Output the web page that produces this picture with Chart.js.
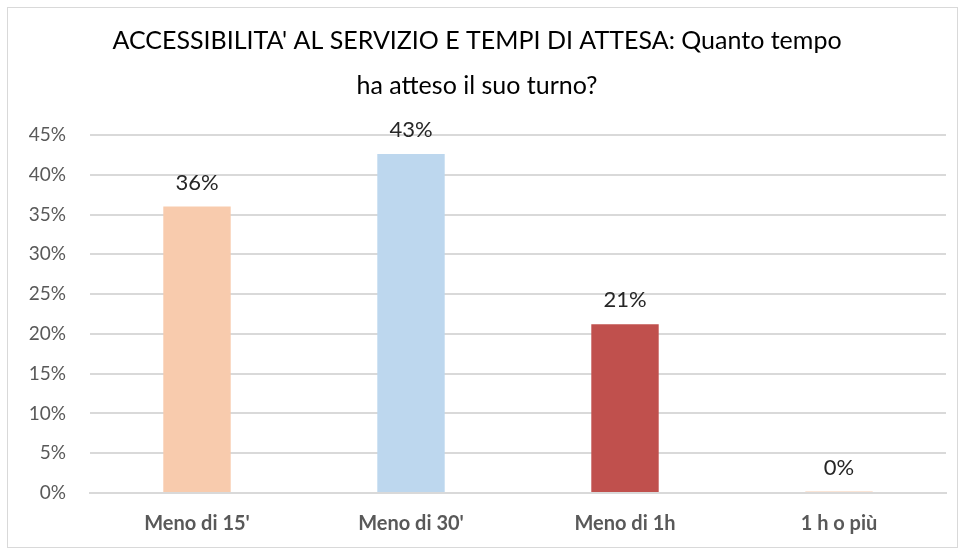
<!DOCTYPE html>
<html>
<head>
<meta charset="utf-8">
<script src="https://cdn.jsdelivr.net/npm/chart.js@4.4.0/dist/chart.umd.min.js"></script>
<style>
  html, body { margin: 0; padding: 0; background: #fff; }
  #box {
    position: absolute; left: 7px; top: 7px;
    width: 951px; height: 541px;
    box-sizing: border-box; border: 1px solid #d9d9d9;
  }
  #chart { display: block; }
</style>
</head>
<body>
<div id="box"><canvas id="chart" width="949" height="539"></canvas></div>
<script>
//---------------------- Data -----------------------//
const categories = ["Meno di 15'", "Meno di 30'", "Meno di 1h", "1 h o più"];
const values = [36.0, 42.6, 21.2, 0.2];
const barColors = ['#F8CBAD', '#BDD7EE', '#C0504D', '#F8CBAD'];
const yTicks = [0, 5, 10, 15, 20, 25, 30, 35, 40, 45];

const FONT = 'Lato, "Open Sans", sans-serif';

// etichette sopra le barre
const valueLabels = {
    id: 'valueLabels',
    afterDatasetsDraw(chart) {
        const ctx = chart.ctx;
        const meta = chart.getDatasetMeta(0);
        ctx.save();
        ctx.font = '22px ' + FONT;
        ctx.fillStyle = '#262626';
        ctx.textAlign = 'center';
        ctx.textBaseline = 'middle';
        meta.data.forEach((bar, i) => {
            ctx.fillText(Math.round(values[i]) + '%', bar.x, bar.y - 24);
        });
        ctx.restore();
    }
};

new Chart(document.getElementById('chart'), {
    type: 'bar',
    data: {
        labels: categories,
        datasets: [{
            data: values,
            backgroundColor: barColors,
            borderWidth: 0,
            barPercentage: 0.63,
            categoryPercentage: 0.5
        }]
    },
    options: {
        responsive: false,
        animation: false,
        devicePixelRatio: 1,
        layout: { padding: { top: 0, right: 11, bottom: 0, left: 0 } },
        plugins: {
            legend: { display: false },
            tooltip: { enabled: false },
            title: {
                display: true,
                text: ["ACCESSIBILITA' AL SERVIZIO E TEMPI DI ATTESA: Quanto tempo", "ha atteso il suo turno?"],
                color: '#000',
                font: { family: FONT, size: 25, weight: 'normal', lineHeight: 1.8 },
                padding: { top: 10, bottom: 27 }
            }
        },
        scales: {
            x: {
                grid: { display: false, drawTicks: false },
                border: { color: '#d9d9d9', width: 2 },
                ticks: {
                    color: '#595959',
                    font: { family: FONT, size: 20, weight: 'bold' },
                    padding: 19
                },
                afterFit(scale) { scale.height = 54; }
            },
            y: {
                min: 0,
                max: 45,
                afterBuildTicks(scale) {
                    scale.ticks = yTicks.map(v => ({ value: v }));
                },
                grid: { color: '#d9d9d9', lineWidth: 2, drawTicks: false },
                border: { display: false },
                ticks: {
                    color: '#595959',
                    font: { family: FONT, size: 19 },
                    padding: 24,
                    callback: (v) => v + '%'
                },
                afterFit(scale) { scale.width = 82; }
            }
        }
    },
    plugins: [valueLabels]
});
</script>
</body>
</html>
